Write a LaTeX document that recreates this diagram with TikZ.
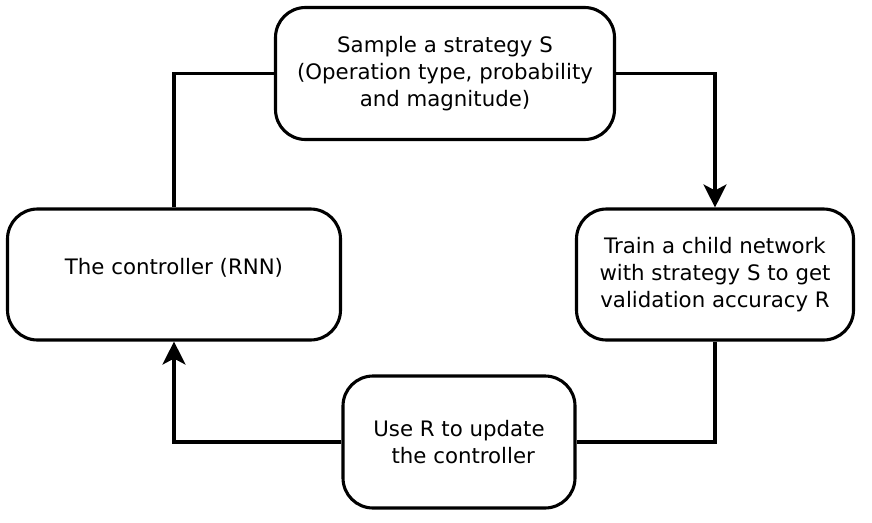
\documentclass[tikz,border=0pt]{standalone}
\usepackage{fontspec}
\setmainfont{DejaVu Sans}
\usetikzlibrary{arrows.meta}
\begin{document}
\begin{tikzpicture}[x=1pt,y=-1pt,
  box/.style={draw=black, line width=3.1pt, rounded corners=30pt, inner sep=0pt,
    align=center, font=\fontsize{21.3}{27}\selectfont, fill=white},
  link/.style={draw=black, line width=3.1pt},
  tip/.style={-{Stealth[length=23pt,width=23pt,inset=6pt]}}]
\useasboundingbox (0,0) rectangle (872,522);
\node[box, minimum width=339pt, minimum height=132pt] (top) at (445,73.5)
  {Sample a strategy S\\(Operation type, probability\\and magnitude)};
\node[box, minimum width=333pt, minimum height=131pt] (left) at (174,274.5) {};
\node[font=\fontsize{21.3}{27}\selectfont] (lefttext) at (174,268) {The controller (RNN)};
\node[box, minimum width=277pt, minimum height=131pt] (right) at (715,274.5)
  {Train a child network\\with strategy S to get\\validation accuracy R};
\node[box, minimum width=232pt, minimum height=132pt] (bottom) at (459,442)
  {Use R to update\\\hspace{0.4em}the controller};
\draw[link] (top.west) -| (left.north);
\draw[link, tip] (top.east) -| (right.north);
\draw[link] (right.south) |- (bottom.east);
\draw[link, tip] (bottom.west) -| (left.south);
\end{tikzpicture}
\end{document}
